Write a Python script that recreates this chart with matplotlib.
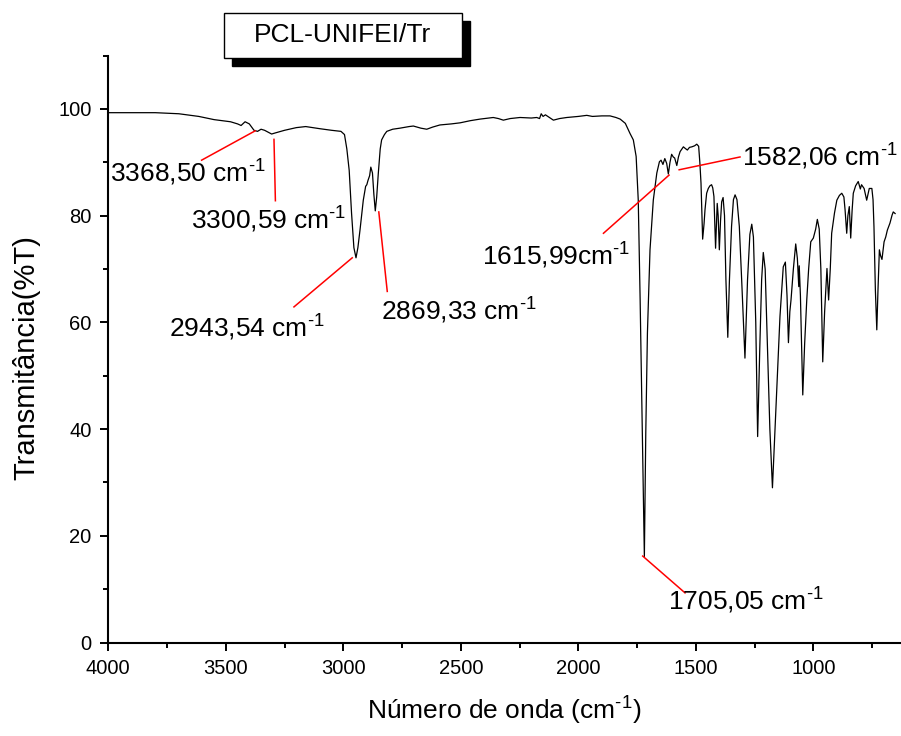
import matplotlib
matplotlib.use("Agg")
import matplotlib.pyplot as plt
from matplotlib.patches import Rectangle
from matplotlib.ticker import MultipleLocator

plt.rcParams['font.family'] = ['Liberation Sans', 'DejaVu Sans']
plt.rcParams['mathtext.default'] = 'regular'

wavenumber = [4000, 3900, 3800, 3700, 3615, 3550, 3480, 3450, 3435, 3418, 3400, 3380, 3365, 3350, 3335,
              3305, 3290, 3250, 3200, 3160, 3100, 3050, 3010, 2995, 2985, 2975, 2965, 2955, 2946, 2938,
              2929, 2915, 2905, 2900, 2895, 2888, 2883, 2876, 2870, 2864, 2858, 2851, 2843, 2837, 2825,
              2815, 2790, 2759, 2720, 2702, 2670, 2645, 2620, 2589, 2540, 2503, 2460, 2418, 2362, 2340,
              2319, 2290, 2248, 2200, 2177, 2165, 2158, 2150, 2140, 2130, 2106, 2080, 2049, 2000, 1964,
              1940, 1900, 1865, 1840, 1822, 1800, 1780, 1766, 1754, 1745, 1737, 1730, 1723, 1719, 1713,
              1706, 1695, 1681, 1666, 1655, 1648, 1640, 1632, 1624, 1617, 1610, 1603, 1596, 1590, 1581,
              1574, 1567, 1553, 1545, 1536, 1527, 1517, 1505, 1496, 1488, 1483, 1478, 1471, 1465, 1461,
              1454, 1447, 1440, 1433, 1428, 1423, 1416, 1409, 1405, 1400, 1395, 1390, 1384, 1378, 1372,
              1364, 1357, 1348, 1340, 1333, 1325, 1315, 1305, 1291, 1280, 1270, 1262, 1255, 1245, 1237,
              1228, 1220, 1213, 1205, 1195, 1185, 1174, 1165, 1155, 1142, 1128, 1119, 1112, 1106, 1100,
              1095, 1085, 1075, 1068, 1062, 1060, 1055, 1045, 1037, 1028, 1020, 1011, 1000, 990, 983,
              975, 968, 960, 952, 947, 942, 935, 928, 922, 910, 900, 889, 879, 870, 865,
              858, 853, 847, 841, 835, 830, 820, 809, 800, 795, 784, 773, 762, 751, 746,
              742, 736, 730, 725, 719, 714, 708, 699, 692, 685, 674, 665, 660, 652]
transmittance = [99.3, 99.3, 99.3, 99.1, 98.6, 98.0, 97.6, 97.2, 96.9, 97.6, 97.2, 96.0, 95.8, 96.2, 96.0,
                 95.3, 95.5, 96.0, 96.5, 96.7, 96.3, 96.0, 95.8, 95.2, 92.5, 88.5, 80.5, 74.0, 72.1, 74.0,
                 77.3, 82.9, 85.5, 85.8, 86.6, 87.5, 89.1, 88.0, 84.0, 80.9, 83.5, 88.0, 92.5, 94.2, 95.2,
                 95.8, 96.2, 96.4, 96.7, 96.8, 96.4, 96.2, 96.6, 97.0, 97.2, 97.4, 97.8, 98.1, 98.4, 98.2,
                 97.9, 98.2, 98.4, 98.3, 98.4, 98.2, 99.1, 98.6, 98.9, 98.6, 97.9, 98.2, 98.4, 98.6, 98.8,
                 98.6, 98.7, 98.7, 98.4, 98.1, 97.3, 95.4, 94.2, 91.1, 82.9, 64.2, 45.5, 26.7, 16.1, 39.3,
                 58.0, 73.6, 82.9, 88.0, 90.1, 90.4, 89.6, 90.7, 89.8, 87.8, 90.0, 91.5, 91.0, 90.8, 89.4,
                 91.0, 92.0, 92.9, 92.6, 92.3, 92.8, 92.9, 93.1, 93.4, 93.0, 90.0, 86.1, 75.6, 78.5, 81.1,
                 84.2, 85.1, 85.6, 85.8, 85.2, 83.6, 73.9, 82.3, 80.0, 73.6, 79.0, 82.6, 83.4, 80.0, 68.0,
                 57.2, 68.0, 78.0, 83.0, 83.9, 83.0, 78.0, 68.0, 53.3, 68.0, 76.5, 78.4, 76.0, 60.0, 38.6,
                 55.0, 68.0, 73.1, 70.0, 55.0, 40.0, 29.0, 38.0, 48.0, 61.1, 70.4, 71.3, 65.0, 56.2, 62.0,
                 64.2, 70.0, 74.7, 72.0, 66.7, 70.6, 65.0, 46.4, 56.0, 64.2, 70.0, 75.1, 75.8, 77.5, 79.3,
                 77.5, 70.0, 52.6, 62.0, 66.0, 70.1, 64.2, 70.0, 76.7, 80.5, 82.9, 83.8, 84.2, 83.5, 81.1,
                 76.7, 80.0, 81.7, 75.8, 81.0, 84.2, 85.6, 86.4, 85.0, 85.8, 85.1, 82.9, 85.1, 85.1, 83.0,
                 77.9, 66.0, 58.6, 66.0, 73.6, 72.5, 71.8, 75.1, 76.0, 77.3, 78.6, 80.1, 80.7, 80.4]

SUP = "$^{\u2010 1}$"
peak_labels = ["3368,50 cm" + SUP, "3300,59 cm" + SUP, "2943,54 cm" + SUP, "2869,33 cm" + SUP,
               "1615,99cm" + SUP, "1582,06 cm" + SUP, "1705,05 cm" + SUP]
line_start = [(3375, 95.9), (3295, 94.3), (2962, 72.1), (2849, 80.7), (1614, 87.6), (1571, 88.6), (1726, 16.2)]
line_end = [(3603, 90.4), (3289, 82.8), (3210, 62.9), (2813, 65.8), (1893, 76.7), (1312, 91.0), (1546, 9.3)]
text_pos = [(3993, 86.2), (3648, 77.5), (3742, 57.2), (2839, 60.4), (2409, 70.8), (1304, 89.2), (1618, 6.0)]

title_text = "PCL-UNIFEI/Tr"
xlabel = "Número de onda (cm" + SUP + ")"
ylabel = "Transmitância(%T)"

W, H = 901, 736
fig = plt.figure(figsize=(W / 100, H / 100), dpi=100)
ax = fig.add_axes([108.3 / W, 1 - 642.5 / H, 1 - 108.3 / W, (642.5 - 55.6) / H])

ax.plot(wavenumber, transmittance, color='black', linewidth=0.9)
ax.set_xlim(4000, 627)
ax.set_ylim(0, 110)

for lab, s, e, t in zip(peak_labels, line_start, line_end, text_pos):
    ax.plot([s[0], e[0]], [s[1], e[1]], color='red', linewidth=1.1, clip_on=False)
    ax.text(t[0], t[1], lab, fontsize=19, ha='left', va='baseline', clip_on=False)

for sp in ['top', 'right']:
    ax.spines[sp].set_visible(False)
for sp in ['left', 'bottom']:
    ax.spines[sp].set_linewidth(1.5)

ax.xaxis.set_major_locator(MultipleLocator(500))
ax.xaxis.set_minor_locator(MultipleLocator(250))
ax.yaxis.set_major_locator(MultipleLocator(20))
ax.yaxis.set_minor_locator(MultipleLocator(10))
ax.tick_params(which='major', direction='out', length=6, width=1.4, labelsize=14.5, pad=6)
ax.tick_params(which='minor', direction='out', length=3.5, width=1.4)

ax.set_xlabel(xlabel, fontsize=19, labelpad=12)
ax.set_ylabel(ylabel, fontsize=21)
ax.yaxis.set_label_coords((40 - 108.3) / 792.7, (642.5 - 358) / 586.9)

# title box with drop shadow
bx0, by0, bx1, by1 = 224, 12.7, 462, 58
sh = 8
fig.add_artist(Rectangle(((bx0 + sh) / W, 1 - (by1 + sh) / H), (bx1 - bx0) / W, (by1 - by0) / H,
                         transform=fig.transFigure, facecolor='black', edgecolor='black', zorder=5))
fig.add_artist(Rectangle((bx0 / W, 1 - by1 / H), (bx1 - bx0) / W, (by1 - by0) / H,
                         transform=fig.transFigure, facecolor='white', edgecolor='black',
                         linewidth=1.0, zorder=6))
fig.text((bx0 + bx1) / 2 / W, 1 - (by0 + by1) / 2 / H, title_text, fontsize=19,
         ha='center', va='center', zorder=7)

fig.savefig("out.png", dpi=100)
